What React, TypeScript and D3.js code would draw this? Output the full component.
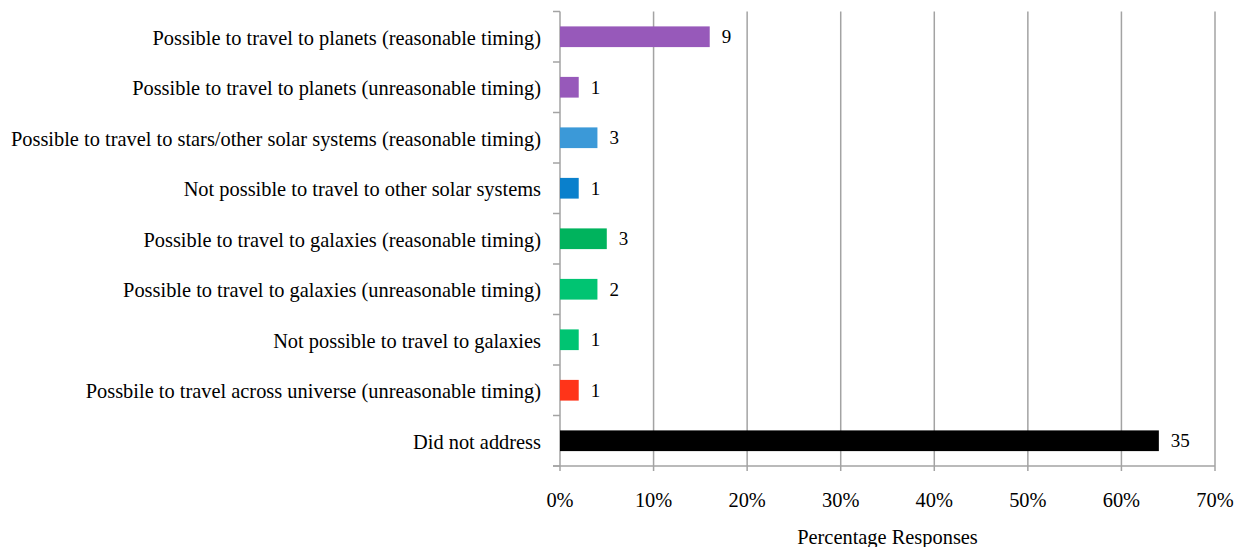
import React from "react";
import * as d3 from "d3";

// Response categories, top to bottom
const categories: string[] = [
  "Possible to travel to planets (reasonable timing)",
  "Possible to travel to planets (unreasonable timing)",
  "Possible to travel to stars/other solar systems (reasonable timing)",
  "Not possible to travel to other solar systems",
  "Possible to travel to galaxies (reasonable timing)",
  "Possible to travel to galaxies (unreasonable timing)",
  "Not possible to travel to galaxies",
  "Possbile to travel across universe (unreasonable timing)",
  "Did not address",
];

// Share of responses (%) per category
const percentages: number[] = [16, 2, 4, 2, 5, 4, 2, 2, 64];

// Number of responses per category (printed beside each bar)
const counts: number[] = [9, 1, 3, 1, 3, 2, 1, 1, 35];

const barColors: string[] = [
  "#9759ba",
  "#9759ba",
  "#3b99d8",
  "#0a80cc",
  "#00b35d",
  "#00c472",
  "#00c472",
  "#ff3419",
  "#000000",
];

const xTicks: number[] = [0, 10, 20, 30, 40, 50, 60, 70];

const WIDTH = 1235;
const HEIGHT = 547;
const margin = { left: 560, right: 20, top: 11.5, bottom: 81 };
const FONT = "'Liberation Serif', 'Times New Roman', serif";
const FS = 20.4;

export default function App() {
  const x = d3
    .scaleLinear()
    .domain([0, 70])
    .range([margin.left, WIDTH - margin.right]);
  const y = d3
    .scaleBand<string>()
    .domain(categories)
    .range([margin.top, HEIGHT - margin.bottom])
    .paddingInner(0.59)
    .paddingOuter(0.295);
  const yTop = margin.top;
  const yBottom = HEIGHT - margin.bottom;
  const step = y.step();
  const boundaries = d3.range(categories.length + 1).map((i) => yTop + i * step);

  return (
    <svg
      width={WIDTH}
      height={HEIGHT}
      style={{ position: "absolute", left: 0, top: 0, background: "#fff" }}
      fontFamily={FONT}
    >
      {/* vertical gridlines */}
      {xTicks.slice(1).map((t) => (
        <line
          key={"g" + t}
          x1={x(t)}
          x2={x(t)}
          y1={yTop}
          y2={yBottom + 5}
          stroke="#a3a3a3"
          strokeWidth={1.5}
        />
      ))}

      {/* category axis */}
      <line x1={x(0)} x2={x(0)} y1={yTop} y2={yBottom + 5} stroke="#a3a3a3" strokeWidth={1.5} />
      {boundaries.map((b, i) => (
        <line key={"yt" + i} x1={x(0) - 7} x2={x(0)} y1={b} y2={b} stroke="#a3a3a3" strokeWidth={1.5} />
      ))}

      {/* value axis */}
      <line x1={x(0) - 7} x2={x(70)} y1={yBottom} y2={yBottom} stroke="#a3a3a3" strokeWidth={1.5} />

      {/* bars */}
      {categories.map((c, i) => (
        <rect
          key={"b" + i}
          x={x(0)}
          y={y(c)!}
          width={x(percentages[i]) - x(0)}
          height={y.bandwidth()}
          fill={barColors[i]}
        />
      ))}

      {/* count labels */}
      {categories.map((c, i) => (
        <text
          key={"v" + i}
          x={x(percentages[i]) + 12}
          y={y(c)! + y.bandwidth() / 2}
          dy="0.35em"
          fontSize={19}
          fill="#000"
        >
          {counts[i]}
        </text>
      ))}

      {/* category labels */}
      {categories.map((c, i) => (
        <text
          key={"c" + i}
          x={x(0) - 19}
          y={y(c)! + y.bandwidth() / 2 + 1}
          dy="0.35em"
          textAnchor="end"
          fontSize={FS}
          fill="#000"
        >
          {c}
        </text>
      ))}

      {/* x tick labels */}
      {xTicks.map((t) => (
        <text
          key={"xl" + t}
          x={x(t)}
          y={yBottom + 41}
          textAnchor="middle"
          fontSize={FS}
          fill="#000"
        >
          {t + "%"}
        </text>
      ))}

      <text
        x={(x(0) + x(70)) / 2}
        y={yBottom + 78}
        textAnchor="middle"
        fontSize={FS}
        fill="#000"
      >
        Percentage Responses
      </text>
    </svg>
  );
}
